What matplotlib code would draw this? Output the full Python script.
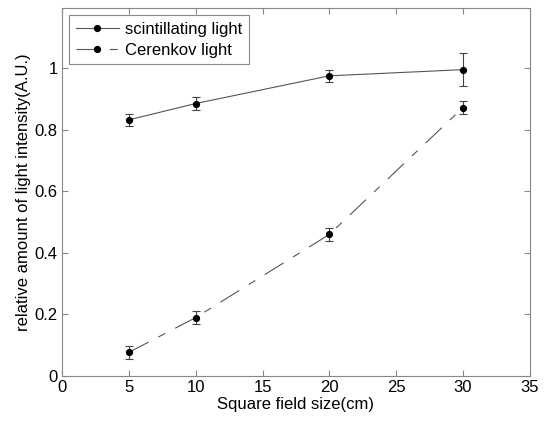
import matplotlib
matplotlib.use("Agg")
import matplotlib.pyplot as plt

plt.rcParams["font.family"] = ["Liberation Sans", "DejaVu Sans"]

field_size = [5, 10, 20, 30]
scint = [0.832, 0.885, 0.975, 0.995]
scint_err = [0.02, 0.02, 0.02, 0.053]
cerenkov = [0.077, 0.19, 0.46, 0.872]
cerenkov_err = [0.022, 0.022, 0.022, 0.022]

fig = plt.figure(figsize=(5.44, 4.24), dpi=100)
ax = fig.add_axes([0.114, 0.113, 0.860, 0.868])

line_color = "#555555"
err_style = dict(fmt="none", ecolor="#444444", elinewidth=0.8, capsize=3, capthick=0.8)
marker_style = dict(marker="o", markersize=4.2, markerfacecolor="black", markeredgecolor="black")

ax.errorbar(field_size, scint, yerr=scint_err, **err_style)
ax.errorbar(field_size, cerenkov, yerr=cerenkov_err, **err_style)
ax.plot(field_size, scint, color=line_color, linewidth=0.8, label="scintillating light",
        **marker_style)
ax.plot(field_size, cerenkov, color=line_color, linewidth=0.8, linestyle=(0, (20, 10, 7, 10)),
        label="Cerenkov light", **marker_style)

ax.set_xlim(0, 35)
ax.set_ylim(0, 1.195)
ax.set_xticks(range(0, 36, 5))
ax.set_yticks([0, 0.2, 0.4, 0.6, 0.8, 1])
ax.set_yticklabels(["0", "0.2", "0.4", "0.6", "0.8", "1"])
ax.tick_params(direction="in", top=True, right=True, labelsize=12, length=4,
               color="#888888", pad=3)
for s in ax.spines.values():
    s.set_color("#888888")

ax.set_xlabel("Square field size(cm)", fontsize=12, labelpad=1)
ax.set_ylabel("relative amount of light intensity(A.U.)", fontsize=12, labelpad=3)

leg = ax.legend(loc="upper left", fontsize=12, fancybox=False, framealpha=1,
                edgecolor="#888888", handlelength=2.6, borderaxespad=0.42,
                handletextpad=0.35, borderpad=0.4, labelspacing=0.35)
leg.get_frame().set_linewidth(0.8)

fig.savefig("out.png", dpi=100)
